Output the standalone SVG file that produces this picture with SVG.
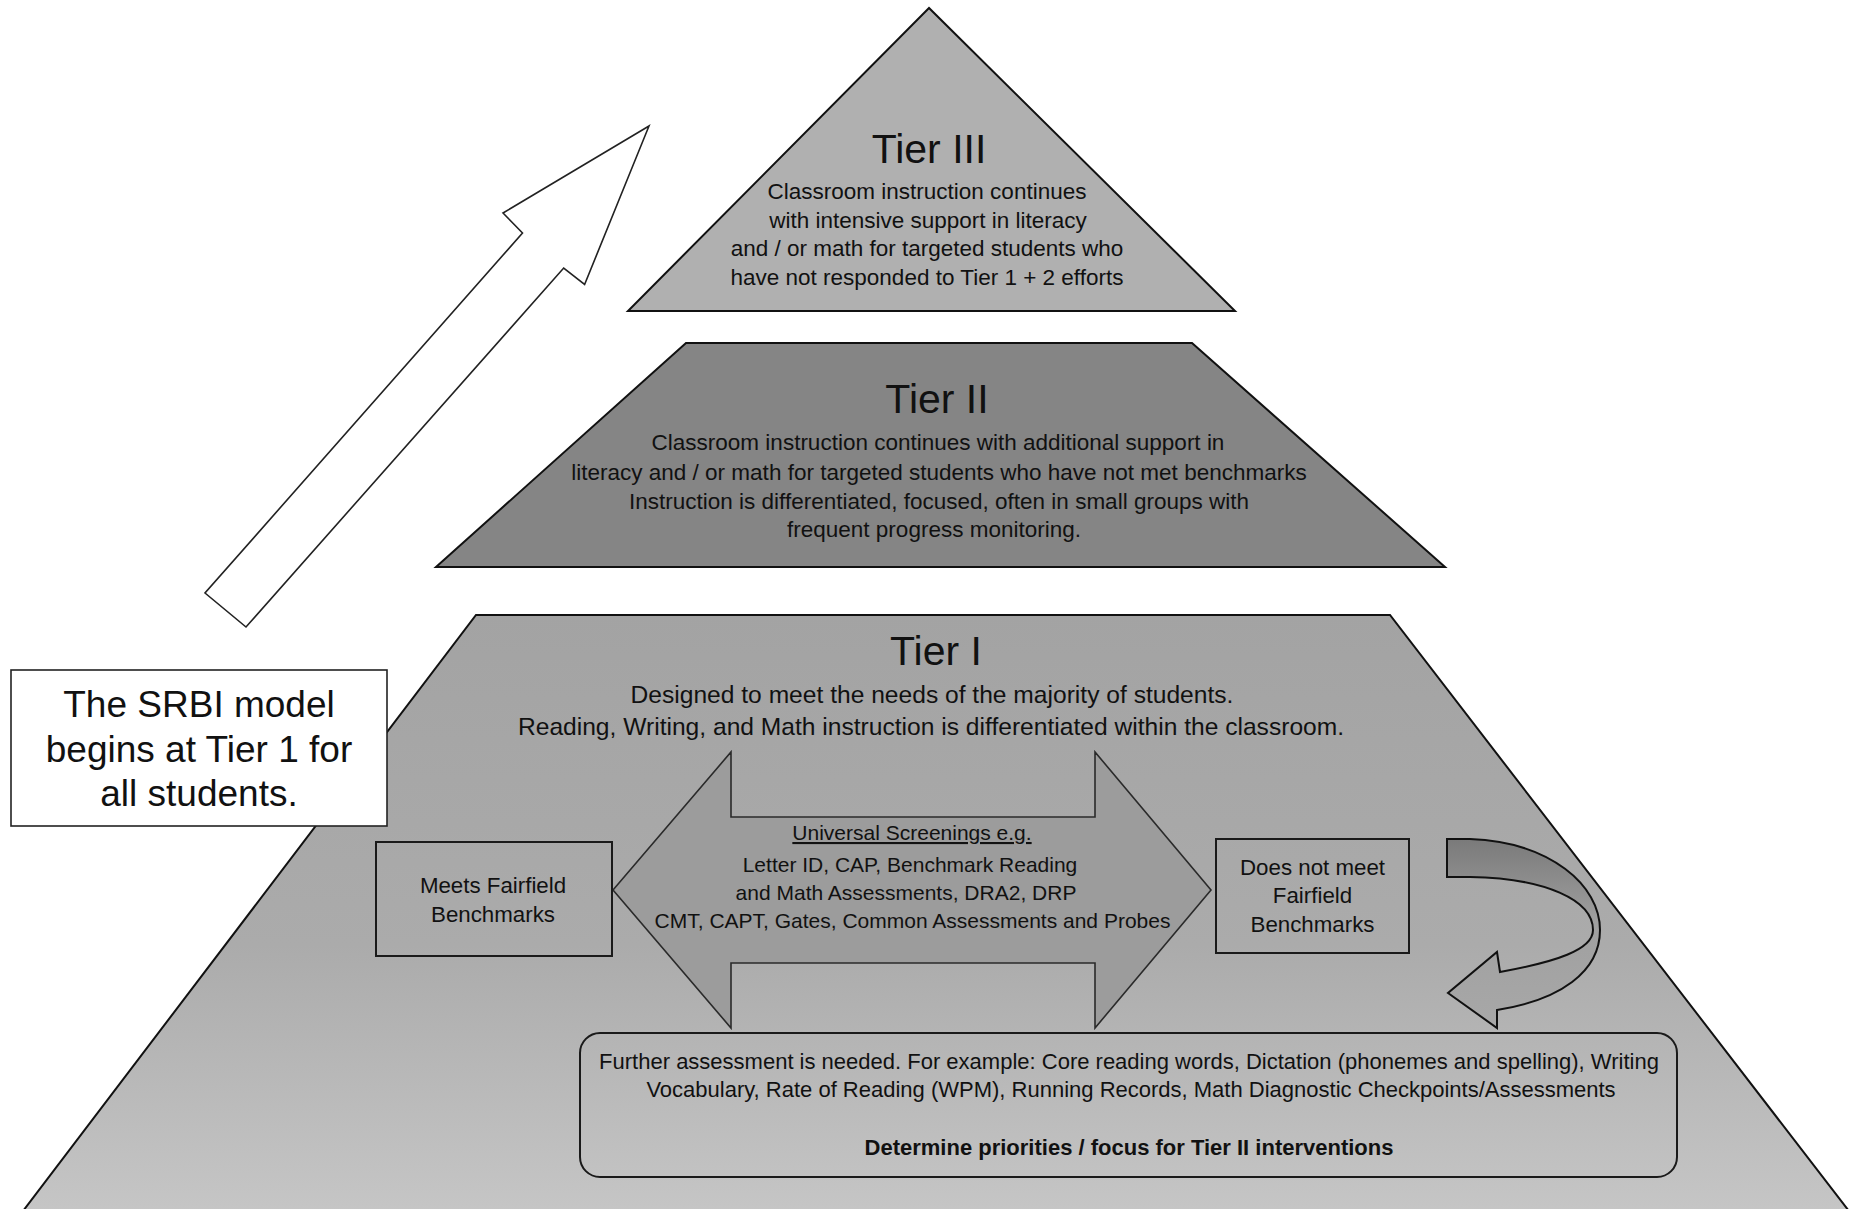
<svg xmlns="http://www.w3.org/2000/svg" width="1856" height="1209" viewBox="0 0 1856 1209">
<style>
.t{font-family:"Liberation Sans",Arial,sans-serif;fill:#111;text-anchor:middle}
.title{font-size:41px}
.b3{font-size:22.5px}
.b1{font-size:24.6px}
.us{font-size:21px}
.bx{font-size:22.3px}
.fa{font-size:22px}
.note{font-size:37px;fill:#111}
.edge{stroke:#111;stroke-width:2}
.box{fill:none;stroke:#1a1a1a;stroke-width:2}
</style>
<defs>
<linearGradient id="g1" x1="0" y1="0" x2="0" y2="1">
<stop offset="0" stop-color="#a3a3a3"/>
<stop offset="0.55" stop-color="#ababab"/>
<stop offset="1" stop-color="#c6c6c6"/>
</linearGradient>
<linearGradient id="gu" x1="0" y1="0" x2="0" y2="1">
<stop offset="0" stop-color="#7a7a7a"/>
<stop offset="0.45" stop-color="#a0a0a0"/>
<stop offset="1" stop-color="#a8a8a8"/>
</linearGradient>
</defs>
<rect width="1856" height="1209" fill="#fff"/>

<g id="tier3">
<polygon class="edge" points="929,8 628,311 1235,311" fill="#b0b0b0"/>
<text class="t title" x="929" y="163">Tier III</text>
<text class="t b3" x="927" y="199">Classroom instruction continues</text>
<text class="t b3" x="928" y="227.5">with intensive support in literacy</text>
<text class="t b3" x="927" y="256">and / or math for targeted students who</text>
<text class="t b3" x="927" y="284.5">have not responded to Tier 1 + 2 efforts</text>
</g>

<g id="tier2">
<polygon class="edge" points="686,343 1192,343 1445,567 436,567" fill="#858585"/>
<text class="t title" x="937" y="413">Tier II</text>
<text class="t b3" x="938" y="450">Classroom instruction continues with additional support in</text>
<text class="t b3" x="939" y="479.5">literacy and / or math for targeted students who have not met benchmarks</text>
<text class="t b3" x="939" y="509">Instruction is differentiated, focused, often in small groups with</text>
<text class="t b3" x="934" y="537">frequent progress monitoring.</text>
</g>

<g id="tier1">
<polygon class="edge" points="476,615 1390,615 1852,1215 20,1215" fill="url(#g1)"/>
<text class="t title" x="936" y="665">Tier I</text>
<text class="t b1" x="932" y="703">Designed to meet the needs of the majority of students.</text>
<text class="t b1" x="931" y="735">Reading, Writing, and Math instruction is differentiated within the classroom.</text>
</g>

<g id="connectors">
<polygon id="up-arrow" points="649,126 503,213 522.5,233 205,593 246,627 563.7,268 584.6,284.5" fill="#fff" stroke="#222" stroke-width="1.6" stroke-linejoin="miter"/>
<polygon id="screening-arrow" points="613,890 731,752 731,817 1095,817 1095,752 1211,890 1095,1028 1095,963 731,963 731,1028" fill="#9c9c9c" stroke="#2a2a2a" stroke-width="1.6"/>
<path id="u-turn-arrow" d="M1447,839 L1470,839 C1550,842 1600,885 1600,930 C1600,972 1560,1000 1497,1010 L1497,1028 L1448,993 L1497,952 L1500,972 C1555,962 1593,950 1593,930 C1593,900 1545,878 1470,877 L1447,877 Z" fill="url(#gu)" stroke="#111" stroke-width="2"/>
</g>

<g id="universal-screenings">
<text class="t us" x="912" y="840" text-decoration="underline">Universal Screenings e.g.</text>
<text class="t us" x="910" y="871.5">Letter ID, CAP, Benchmark Reading</text>
<text class="t us" x="906" y="900">and Math Assessments, DRA2, DRP</text>
<text class="t us" x="912.5" y="928">CMT, CAPT, Gates, Common Assessments and Probes</text>
</g>

<g id="meets-box">
<rect class="box" x="376" y="842" width="236" height="114" fill="#a4a4a4"/>
<text class="t bx" x="493" y="893">Meets Fairfield</text>
<text class="t bx" x="493" y="921.5">Benchmarks</text>
</g>

<g id="does-not-meet-box">
<rect class="box" x="1216" y="839" width="193" height="114" fill="#a4a4a4"/>
<text class="t bx" x="1312.5" y="875">Does not meet</text>
<text class="t bx" x="1312.5" y="903">Fairfield</text>
<text class="t bx" x="1312.5" y="931.5">Benchmarks</text>
</g>

<g id="further-assessment">
<rect class="box" x="580" y="1033" width="1097" height="144" rx="20" fill="#a9a9a9"/>
<text class="t fa" x="1129" y="1069">Further assessment is needed.  For example: Core reading words, Dictation (phonemes and spelling), Writing</text>
<text class="t fa" x="1131" y="1097">Vocabulary, Rate of Reading (WPM), Running Records, Math Diagnostic Checkpoints/Assessments</text>
<text class="t fa" x="1129" y="1155" font-weight="bold">Determine priorities / focus for Tier II interventions</text>
</g>

<g id="srbi-note">
<rect x="11" y="670" width="376" height="156" fill="#fff" stroke="#222" stroke-width="1.6"/>
<text class="t note" x="199" y="717">The SRBI model</text>
<text class="t note" x="199" y="762">begins at Tier 1 for</text>
<text class="t note" x="199" y="806">all students.</text>
</g>
</svg>
